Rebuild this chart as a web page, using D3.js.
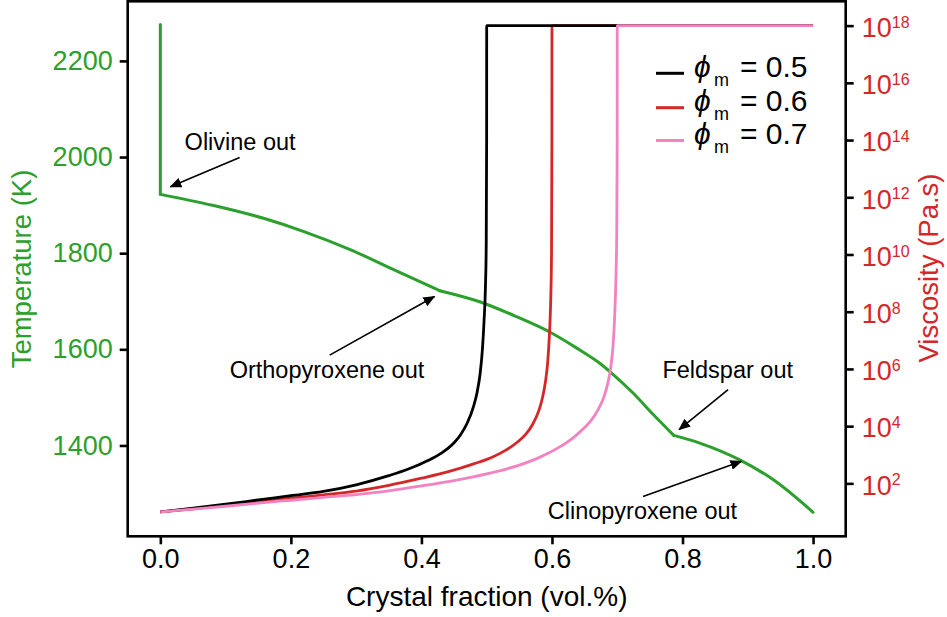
<!DOCTYPE html>
<html><head><meta charset="utf-8">
<script src="https://cdn.jsdelivr.net/npm/d3@7"></script>
<style>
body{margin:0;background:#fff;}
svg{display:block;font-family:Arial,"Liberation Sans",Helvetica,sans-serif;}
</style>
</head><body>
<svg id="chart" width="947" height="617"></svg>
<script>
// ---------- data ----------
// temperature (K) vs crystal fraction; phase-out points are kinks
const tempX = [0, 0, 0.08, 0.162, 0.22, 0.29, 0.3616, 0.428, 0.4893, 0.5455, 0.5965, 0.6374, 0.6732, 0.6935, 0.7242, 0.7548, 0.7866, 0.8264, 0.8877, 0.9387, 1.0];
const tempK = [2275.6, 1922.4, 1899.6, 1871, 1845, 1808, 1763, 1722, 1699, 1668, 1636, 1603, 1571, 1548, 1509, 1465, 1421, 1405, 1370, 1329, 1261];
const phaseOutX = [0, 0.428, 0.7866];

// log10 viscosity (Pa.s) vs crystal fraction, one array per phi_m
const visc05X = [0, 0.05, 0.10, 0.15, 0.20, 0.25, 0.30, 0.35, 0.38, 0.41, 0.43, 0.45, 0.46, 0.47, 0.48, 0.485, 0.49, 0.4935, 0.496, 0.498, 0.4993, 0.4999, 0.5, 1.0];
const visc05Log = [1.00, 1.13, 1.27, 1.42, 1.57, 1.72, 1.95, 2.27, 2.50, 2.80, 3.05, 3.42, 3.70, 4.10, 4.70, 5.15, 5.85, 6.70, 7.70, 8.80, 10.4, 14.0, 18.0, 18.0];

const visc06X = [0, 0.05, 0.10, 0.15, 0.20, 0.25, 0.30, 0.35, 0.40, 0.44, 0.48, 0.51, 0.53, 0.55, 0.56, 0.57, 0.58, 0.585, 0.59, 0.5935, 0.596, 0.598, 0.5993, 0.5999, 0.6, 1.0];
const visc06Log = [1.00, 1.11, 1.24, 1.36, 1.48, 1.60, 1.73, 1.93, 2.18, 2.40, 2.68, 2.93, 3.17, 3.50, 3.72, 4.05, 4.55, 4.95, 5.55, 6.25, 7.15, 8.35, 10.0, 14.0, 18.0, 18.0];

const visc07X = [0, 0.05, 0.10, 0.15, 0.20, 0.25, 0.30, 0.35, 0.40, 0.45, 0.50, 0.55, 0.58, 0.61, 0.63, 0.65, 0.66, 0.67, 0.68, 0.685, 0.69, 0.6935, 0.696, 0.698, 0.6993, 0.6999, 0.7, 1.0];
const visc07Log = [1.00, 1.10, 1.20, 1.31, 1.41, 1.51, 1.61, 1.74, 1.91, 2.10, 2.33, 2.64, 2.90, 3.25, 3.55, 3.95, 4.20, 4.55, 5.05, 5.45, 6.05, 6.80, 7.80, 9.20, 10.9, 14.0, 18.0, 18.0];

const phiLabels = ["0.5", "0.6", "0.7"];
const seriesColors = ["#000000", "#d62728", "#f382c0"];

const xTicks = [0, 0.2, 0.4, 0.6, 0.8, 1.0];
const xTickLabels = ["0.0", "0.2", "0.4", "0.6", "0.8", "1.0"];
const tempTicks = [1400, 1600, 1800, 2000, 2200];
const viscTickExps = [2, 4, 6, 8, 10, 12, 14, 16, 18];

const annoText = ["Olivine out", "Orthopyroxene out", "Feldspar out", "Clinopyroxene out"];
const annoTextPos = [[0.0372, 2014], [0.1062, 1541], [0.7692, 1541], [0.5935, 1246]];
const annoTail = [[0.1215, 1999], [0.2594, 1588], [0.8698, 1516], [0.7395, 1294]];
const annoTip = [[0.0153, 1938], [0.420, 1710], [0.7947, 1433], [0.8903, 1367]];

// ---------- layout ----------
const L = 127.7, R = 845.7, T = 1.3, B = 536.3;
const green = "#2ca02c", red = "#d62728";
const svg = d3.select("#chart");

const x = d3.scaleLinear().domain([-0.05, 1.05]).range([L, R]);
const yT = d3.scaleLinear().domain([1211, 2324]).range([B, T]);
const yV = d3.scaleLog().domain([Math.pow(10, 0.15), Math.pow(10, 18.85)]).range([B, T]);

const defs = svg.append("defs");
defs.append("marker").attr("id", "arr").attr("viewBox", "0 0 12 10")
  .attr("refX", 11).attr("refY", 5).attr("markerWidth", 12).attr("markerHeight", 10)
  .attr("markerUnits", "userSpaceOnUse").attr("orient", "auto")
  .append("path").attr("d", "M0,0 L12,5 L0,10 Z").attr("fill", "#000");

// temperature line, split into smooth segments at phase-out kinks
const tempPts = tempX.map((v, i) => [v, tempK[i]]);
const segments = [];
let cur = [];
tempPts.forEach(p => {
  cur.push(p);
  if (phaseOutX.includes(p[0]) && cur.length > 1) { segments.push(cur); cur = [p]; }
});
if (cur.length > 1) segments.push(cur);
segments.forEach(seg => {
  const curve = seg.length > 2 ? d3.curveMonotoneX : d3.curveLinear;
  svg.append("path").datum(seg)
    .attr("d", d3.line().x(d => x(d[0])).y(d => yT(d[1])).curve(curve))
    .attr("fill", "none").attr("stroke", green).attr("stroke-width", 3)
    .attr("stroke-linejoin", "round").attr("stroke-linecap", "round");
});

// viscosity lines (draw order red, black, pink)
const viscSeries = [
  {xs: visc05X, ys: visc05Log, c: seriesColors[0]},
  {xs: visc06X, ys: visc06Log, c: seriesColors[1]},
  {xs: visc07X, ys: visc07Log, c: seriesColors[2]}
];
const vline = d3.line().x(d => x(d[0])).y(d => yV(Math.pow(10, d[1]))).curve(d3.curveMonotoneX);
[1, 0, 2].forEach(k => {
  const s = viscSeries[k];
  svg.append("path").datum(s.xs.map((v, i) => [v, s.ys[i]]))
    .attr("d", vline).attr("fill", "none").attr("stroke", s.c).attr("stroke-width", 2.8);
});

// frame
svg.append("rect").attr("x", L).attr("y", T).attr("width", R - L).attr("height", B - T)
  .attr("fill", "none").attr("stroke", "#000").attr("stroke-width", 2.6);

// axes
const xAxis = svg.append("g").attr("transform", `translate(0,${B})`)
  .call(d3.axisBottom(x).tickValues(xTicks).tickFormat((d, i) => xTickLabels[i]).tickSize(8).tickSizeOuter(0).tickPadding(4.5));
const yAxisL = svg.append("g").attr("transform", `translate(${L},0)`)
  .call(d3.axisLeft(yT).tickValues(tempTicks).tickFormat(d3.format("d")).tickSize(8).tickSizeOuter(0).tickPadding(7));
const yAxisR = svg.append("g").attr("transform", `translate(${R},0)`)
  .call(d3.axisRight(yV).tickValues(viscTickExps.map(e => Math.pow(10, e))).tickFormat("").tickSize(8).tickSizeOuter(0).tickPadding(8));

[xAxis, yAxisL, yAxisR].forEach(g => {
  g.select(".domain").remove();
  g.selectAll(".tick line").attr("stroke", "#000").attr("stroke-width", 2.6);
  g.selectAll(".tick text").attr("font-family", "Arial, 'Liberation Sans', sans-serif").attr("font-size", 27);
});
xAxis.selectAll(".tick text").attr("fill", "#000");
yAxisL.selectAll(".tick text").attr("fill", green);
yAxisR.selectAll(".tick text").each(function(d, i) {
  const t = d3.select(this).attr("fill", red).attr("dy", "0.4em").text(null);
  t.append("tspan").text("10");
  t.append("tspan").attr("font-size", 16).attr("dy", "-0.58em").text(String(viscTickExps[i]));
});

// axis titles
svg.append("text").attr("x", (L + R) / 2).attr("y", 606).attr("text-anchor", "middle")
  .attr("font-size", 28).attr("fill", "#000").text("Crystal fraction (vol.%)");
svg.append("text").attr("transform", "translate(31,269) rotate(-90)").attr("text-anchor", "middle")
  .attr("font-size", 27.5).attr("fill", green).text("Temperature (K)");
svg.append("text").attr("transform", "translate(938,268) rotate(-90)").attr("text-anchor", "middle")
  .attr("font-size", 27.5).attr("fill", red).text("Viscosity (Pa.s)");

// annotations
annoText.forEach((t, i) => {
  svg.append("text").attr("x", x(annoTextPos[i][0])).attr("y", yT(annoTextPos[i][1]))
    .attr("font-size", 23.5).attr("fill", "#000").text(t);
  svg.append("line")
    .attr("x1", x(annoTail[i][0])).attr("y1", yT(annoTail[i][1]))
    .attr("x2", x(annoTip[i][0])).attr("y2", yT(annoTip[i][1]))
    .attr("stroke", "#000").attr("stroke-width", 1.6).attr("marker-end", "url(#arr)");
});

// legend
const legY = [73.3, 107.7, 140.5];
phiLabels.forEach((p, i) => {
  svg.append("line").attr("x1", 656).attr("x2", 684).attr("y1", legY[i]).attr("y2", legY[i])
    .attr("stroke", seriesColors[i]).attr("stroke-width", 3);
  const t = svg.append("text").attr("x", 694).attr("y", legY[i] + 3.5).attr("font-size", 30).attr("fill", "#000");
  t.append("tspan").attr("font-style", "italic").text("\u03D5");
  t.append("tspan").attr("font-size", 18).attr("x", 714).attr("dy", 9).text("m");
  t.append("tspan").attr("x", 740).attr("dy", -9).text("= " + p);
});
</script>
</body></html>
